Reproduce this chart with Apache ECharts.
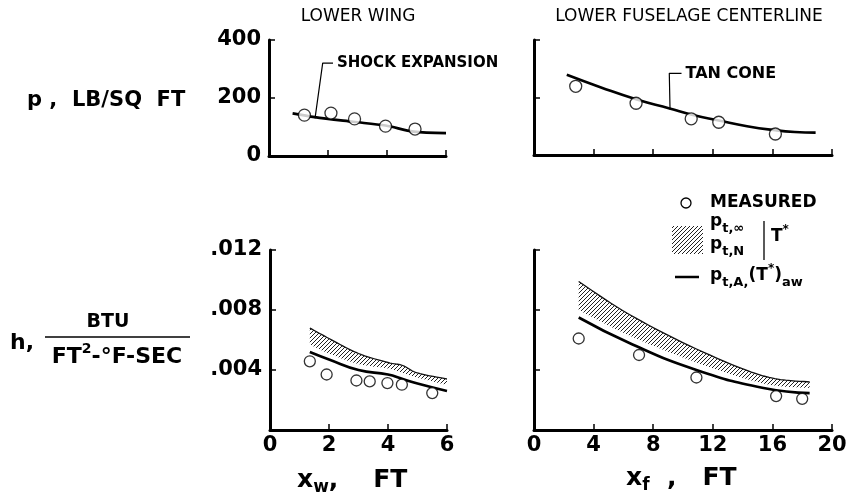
<!DOCTYPE html>
<html>
<head>
<meta charset="utf-8">
<script src="https://cdn.jsdelivr.net/npm/echarts@6/dist/echarts.min.js"></script>
<style>
html, body { margin: 0; padding: 0; background: #fff; }
#chart { width: 850px; height: 494px; }
</style>
</head>
<body>
<div id="chart"></div>
<script>
// --- pressure, lower wing (ft, lb/sq ft)
var wingMeasX = [1.2, 2.1, 2.9, 3.95, 4.95];
var wingMeasP = [141, 148, 128, 103, 93];
var shockX = [0.8, 1.55, 2.85, 3.95, 4.9, 6.0];
var shockP = [147, 134, 118, 105, 84, 79];

// --- pressure, lower fuselage centerline
var fusMeasX = [2.8, 6.85, 10.55, 12.4, 16.2];
var fusMeasP = [239, 180, 126, 114, 73];
var coneX = [2.2, 4.5, 6.9, 9.1, 10.6, 12.4, 14.3, 16.2, 17.5, 18.9];
var coneP = [279, 235, 193, 162, 140, 120, 100, 86, 80, 78];

// --- heat transfer coefficient, lower wing
var wingHMeasX = [1.35, 1.92, 2.93, 3.38, 3.98, 4.47, 5.5];
var wingHMeas = [0.00458, 0.0037, 0.0033, 0.00324, 0.00313, 0.00302, 0.00246];
var wingBandX = [1.35, 2.0, 3.0, 4.0, 4.5, 5.0, 6.0];
var wingBandHi = [0.0068, 0.0061, 0.0051, 0.0045, 0.0043, 0.0038, 0.0034];
var wingBandLo = [0.0057, 0.0051, 0.0044, 0.0041, 0.0038, 0.0035, 0.0030];
var wingLineH = [0.0052, 0.0047, 0.0040, 0.0037, 0.0034, 0.0031, 0.0026];

// --- heat transfer coefficient, lower fuselage
var fusHMeasX = [3.0, 7.05, 10.9, 16.25, 18.0];
var fusHMeas = [0.0061, 0.0050, 0.0035, 0.00226, 0.00208];
var fusBandX = [3.0, 6.4, 10.9, 15.4, 18.5];
var fusBandHi = [0.0099, 0.0077, 0.0054, 0.0036, 0.0032];
var fusBandLo = [0.0080, 0.0063, 0.0045, 0.0031, 0.0028];
var fusLineH = [0.0075, 0.0058, 0.0040, 0.0028, 0.00246];

// leader lines for the theory labels
var shockLeaderX = [1.56, 1.82, 2.17];
var shockLeaderP = [130, 320, 320];
var coneLeaderX = [9.13, 9.08, 9.9];
var coneLeaderP = [158, 284, 284];

var FONT = 'DejaVu Sans';

function pairs(xs, ys) {
  return xs.map(function (x, i) { return [x, ys[i]]; });
}

// hatch pattern for the T* band
var hatch = document.createElement('canvas');
hatch.width = 4; hatch.height = 4;
var hc = hatch.getContext('2d');
hc.strokeStyle = '#222';
hc.lineWidth = 1;
hc.beginPath();
hc.moveTo(0, 4); hc.lineTo(4, 0);
hc.moveTo(-1, 1); hc.lineTo(1, -1);
hc.moveTo(3, 5); hc.lineTo(5, 3);
hc.stroke();
var hatchFill = { image: hatch, repeat: 'repeat' };

var axisLine = { onZero: false, lineStyle: { color: '#000', width: 3 } };
var axisTick = { inside: true, length: 6, lineStyle: { color: '#000', width: 1.5 } };
var tickFont = { color: '#000', fontFamily: FONT, fontWeight: 'bold', fontSize: 21 };

function xAx(grid, max, interval, labels) {
  return {
    type: 'value', gridIndex: grid, min: 0, max: max, interval: interval, z: 10,
    axisLine: axisLine, axisTick: axisTick, splitLine: { show: false },
    axisLabel: Object.assign({ show: labels, margin: 5 }, tickFont)
  };
}
function yAx(grid, max, interval, labels, fmt) {
  return {
    type: 'value', gridIndex: grid, min: 0, max: max, interval: interval, z: 10,
    axisLine: axisLine, axisTick: axisTick, splitLine: { show: false },
    axisLabel: Object.assign({ show: labels, margin: 8, formatter: fmt }, tickFont)
  };
}
function hFmt(v) { return v === 0 ? '' : v.toFixed(3).slice(1); }

function measured(idx, xs, ys, size) {
  return {
    type: 'scatter', xAxisIndex: idx, yAxisIndex: idx, z: 6,
    data: pairs(xs, ys), symbol: 'circle', symbolSize: size,
    itemStyle: { color: '#fff', borderColor: '#000', borderWidth: 1.3 }
  };
}
function curve(idx, xs, ys, width, smooth) {
  return {
    type: 'line', xAxisIndex: idx, yAxisIndex: idx, z: 5,
    data: pairs(xs, ys), showSymbol: false, smooth: smooth,
    lineStyle: { color: '#000', width: width }
  };
}

// smooth a list of pixel points (Catmull-Rom), for drawing only
function spline(pts, n) {
  var out = [];
  for (var i = 0; i < pts.length - 1; i++) {
    var p0 = pts[Math.max(i - 1, 0)], p1 = pts[i], p2 = pts[i + 1], p3 = pts[Math.min(i + 2, pts.length - 1)];
    for (var k = 0; k < n; k++) {
      var t = k / n, t2 = t * t, t3 = t2 * t, q = [];
      for (var d = 0; d < 2; d++) {
        q.push(0.5 * (2 * p1[d] + (p2[d] - p0[d]) * t +
          (2 * p0[d] - 5 * p1[d] + 4 * p2[d] - p3[d]) * t2 +
          (3 * p1[d] - p0[d] - 3 * p2[d] + p3[d]) * t3));
      }
      out.push(q);
    }
  }
  out.push(pts[pts.length - 1]);
  return out;
}

// hatched band between lower and upper T* curves
function band(idx, xs, lo, hi) {
  return {
    type: 'custom', coordinateSystem: 'cartesian2d', xAxisIndex: idx, yAxisIndex: idx, z: 3,
    data: [[xs[0], hi[0]]], clip: true, silent: true,
    renderItem: function (params, api) {
      var top = spline(xs.map(function (x, i) { return api.coord([x, hi[i]]); }), 10);
      var bot = spline(xs.map(function (x, i) { return api.coord([x, lo[i]]); }), 10).reverse();
      return {
        type: 'group',
        children: [
          { type: 'polygon', shape: { points: top.concat(bot) }, style: { fill: hatchFill } },
          { type: 'polyline', shape: { points: top }, style: { stroke: '#111', lineWidth: 1.3, fill: null } }
        ]
      };
    }
  };
}
function leader(idx, xs, ys, text, size) {
  return {
    type: 'line', xAxisIndex: idx, yAxisIndex: idx, z: 5,
    data: pairs(xs, ys), showSymbol: false,
    lineStyle: { color: '#000', width: 1.2 },
    endLabel: { show: true, distance: 4, formatter: text,
      color: '#000', fontFamily: FONT, fontWeight: 'bold', fontSize: size }
  };
}

var txt = function (x, y, s, size, align, weight) {
  return {
    type: 'text', x: x, y: y,
    style: { text: s, fill: '#000', font: (weight || 'bold') + ' ' + size + 'px "' + FONT + '"',
      align: align || 'left', verticalAlign: 'middle' }
  };
};

var subRich = {
  m: { fontFamily: FONT, fontWeight: 'bold', fontSize: 17, lineHeight: 26, verticalAlign: 'middle', color: '#000' },
  s: { fontFamily: FONT, fontWeight: 'bold', fontSize: 13, lineHeight: 26, verticalAlign: 'bottom', color: '#000' },
  u: { fontFamily: FONT, fontWeight: 'bold', fontSize: 12, lineHeight: 26, verticalAlign: 'top', color: '#000' }
};
var nameRich = {
  m: { fontFamily: FONT, fontWeight: 'bold', fontSize: 25, lineHeight: 32, verticalAlign: 'middle', color: '#000' },
  s: { fontFamily: FONT, fontWeight: 'bold', fontSize: 17, lineHeight: 32, verticalAlign: 'bottom', color: '#000' }
};

var option = {
  backgroundColor: '#fff',
  animation: false,
  grid: [
    { left: 269, top: 40, width: 177, height: 116 },
    { left: 534, top: 40, width: 298, height: 115 },
    { left: 270, top: 250, width: 177, height: 180 },
    { left: 534, top: 250, width: 298, height: 180 }
  ],
  xAxis: [
    xAx(0, 6, 2, false),
    xAx(1, 20, 4, false),
    xAx(2, 6, 2, true),
    xAx(3, 20, 4, true)
  ],
  yAxis: [
    yAx(0, 400, 200, true),
    yAx(1, 400, 200, false),
    yAx(2, 0.012, 0.004, true, hFmt),
    yAx(3, 0.012, 0.004, false, hFmt)
  ],
  series: [
    curve(0, shockX, shockP, 2.6, 0.3),
    leader(0, shockLeaderX, shockLeaderP, 'SHOCK EXPANSION', 15),
    measured(0, wingMeasX, wingMeasP, 12),
    curve(1, coneX, coneP, 2.6, true),
    leader(1, coneLeaderX, coneLeaderP, 'TAN CONE', 16),
    measured(1, fusMeasX, fusMeasP, 12),
    band(2, wingBandX, wingBandLo, wingBandHi),
    curve(2, wingBandX, wingLineH, 2.6, true),
    measured(2, wingHMeasX, wingHMeas, 11),
    band(3, fusBandX, fusBandLo, fusBandHi),
    curve(3, fusBandX, fusLineH, 2.6, true),
    measured(3, fusHMeasX, fusHMeas, 11)
  ],
  graphic: [
    txt(358, 17, 'LOWER WING', 17, 'center', 'normal'),
    txt(689, 17, 'LOWER FUSELAGE CENTERLINE', 17, 'center', 'normal'),
    txt(27, 101, 'p ,  LB/SQ  FT', 21),
    // h axis title as a fraction
    txt(10, 343, 'h,', 22),
    txt(108, 322, 'BTU', 19, 'center'),
    { type: 'line', shape: { x1: 45, y1: 337, x2: 190, y2: 337 }, style: { stroke: '#000', lineWidth: 1.6 } },
    {
      type: 'text', x: 117, y: 357,
      style: {
        text: '{m|FT}{u|2}{m|-°F-SEC}', align: 'center', verticalAlign: 'middle',
        rich: {
          m: { fontFamily: FONT, fontWeight: 'bold', fontSize: 22, lineHeight: 30, verticalAlign: 'middle', color: '#000' },
          u: { fontFamily: FONT, fontWeight: 'bold', fontSize: 14, lineHeight: 30, verticalAlign: 'top', color: '#000' }
        }
      }
    },
    // x axis titles
    { type: 'text', x: 297, y: 480, style: { text: '{m|x}{s|w}{m|,    FT}', verticalAlign: 'middle', rich: nameRich } },
    { type: 'text', x: 626, y: 478, style: { text: '{m|x}{s|f}{m|  ,   FT}', verticalAlign: 'middle', rich: nameRich } },
    // legend
    { type: 'circle', shape: { cx: 686, cy: 203, r: 5 }, style: { fill: '#fff', stroke: '#000', lineWidth: 1.3 } },
    txt(710, 203, 'MEASURED', 17),
    { type: 'rect', shape: { x: 672, y: 226, width: 31, height: 28 }, style: { fill: hatchFill } },
    { type: 'text', x: 710, y: 222, style: { text: '{m|p}{s|t,∞}', verticalAlign: 'middle', rich: subRich } },
    { type: 'text', x: 710, y: 245, style: { text: '{m|p}{s|t,N}', verticalAlign: 'middle', rich: subRich } },
    { type: 'line', shape: { x1: 764, y1: 221, x2: 764, y2: 260 }, style: { stroke: '#000', lineWidth: 1.3 } },
    { type: 'text', x: 771, y: 237, style: { text: '{m|T}{u|*}', verticalAlign: 'middle', rich: subRich } },
    { type: 'line', shape: { x1: 675, y1: 277, x2: 699, y2: 277 }, style: { stroke: '#000', lineWidth: 2.5 } },
    { type: 'text', x: 710, y: 276, style: { text: '{m|p}{s|t,A,}{m|(T}{u|*}{m|)}{s|aw}', verticalAlign: 'middle', rich: subRich } }
  ]
};

var chart = echarts.init(document.getElementById('chart'));
chart.setOption(option);
window.addEventListener('resize', chart.resize);
</script>
</body>
</html>
